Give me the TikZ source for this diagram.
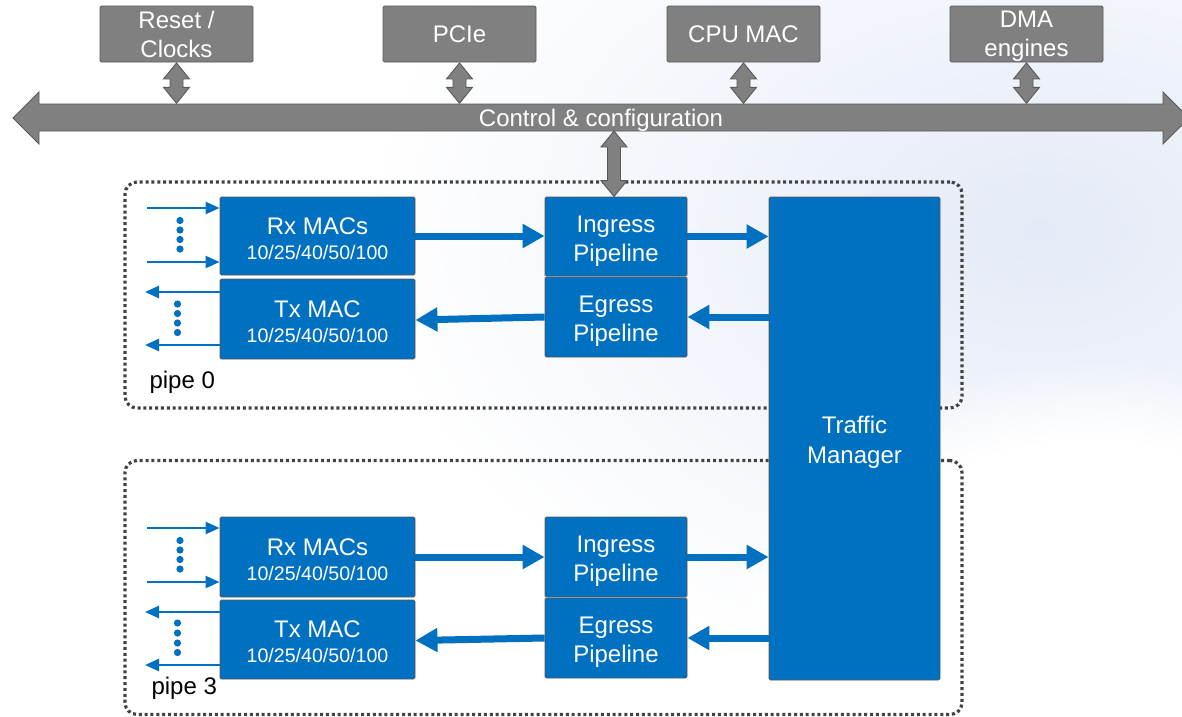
\documentclass[tikz,border=0pt]{standalone}
\usepackage{fontspec}
\setmainfont{Liberation Sans}
\usetikzlibrary{arrows.meta,calc,fadings}

\definecolor{tofblue}{RGB}{0,112,192}
\definecolor{busgray}{RGB}{128,128,128}
\definecolor{edgegray}{RGB}{89,89,89}
\definecolor{dotgray}{RGB}{66,66,66}
\definecolor{haze}{RGB}{228,234,247}

% raise the first line of a block label so that it sits lower in its box
\newcommand\lead{\rule{0pt}{25.5pt}}
\newcommand\leadmac{\rule{0pt}{21.5pt}}

\tikzset{
  bluebox/.style={draw=edgegray, line width=0.9, fill=tofblue, text=white,
    rounded corners=1.5, inner sep=0, align=center,
    font=\fontsize{24}{29}\selectfont},
  macbox/.style={bluebox, font=\fontsize{24}{25}\selectfont},
  graybox/.style={draw=edgegray, line width=0.9, fill=busgray, text=white,
    rounded corners=1.5, inner sep=0, align=center,
    minimum width=153, minimum height=56,
    font=\fontsize{24}{29}\selectfont},
  pipebox/.style={draw=dotgray, line width=3.2, dash pattern=on 3 off 2.85,
    rounded corners=12, inner sep=0},
  fatflow/.style={draw=tofblue, line width=7,
    -{Triangle[width=23pt,length=22pt]}},
  portflow/.style={draw=tofblue, line width=2.5,
    -{Triangle[width=12pt,length=14pt]}},
  fatgray/.style={fill=busgray, draw=edgegray, line width=0.9, line join=miter},
  portdot/.style={fill=tofblue, draw=none},
}

% vertical two-headed block connector between two named points (#1 above #2)
\newcommand\linkbus[2]{%
  \path[fatgray] let \p1=(#1), \p2=(#2) in
    (\x1,\y1) -- (\x1+13,\y1-16) -- (\x1+6.5,\y1-16) -- (\x1+6.5,\y2+16)
    -- (\x1+13,\y2+16) -- (\x1,\y2) -- (\x1-13,\y2+16) -- (\x1-6.5,\y2+16)
    -- (\x1-6.5,\y1-16) -- (\x1-13,\y1-16) -- cycle;}

\begin{document}
\begin{tikzpicture}[x=1pt,y=-1pt]
\useasboundingbox (0,0) rectangle (1182,716);
\fill[white] (0,0) rectangle (1182,716);

% soft backdrop
\begin{scope}
  \clip (0,0) rectangle (1182,716);
  \shade[inner color=haze, outer color=white] (1040,230) ellipse (680 and 460);
  \fill[white, path fading=circle with fuzzy edge 20 percent]
    (1090,760) ellipse (420 and 400);
\end{scope}

% pipe outlines
\node[pipebox, minimum width=837, minimum height=226] (pipe0) at (543.5,295) {};
\node[pipebox, minimum width=837, minimum height=254] (pipe3) at (543.5,587.5) {};
\node[anchor=west, font=\fontsize{24}{29}\selectfont] (lbl0) at (146,382.5) {pipe 0};
\node[anchor=west, font=\fontsize{24}{29}\selectfont] (lbl3) at (148,688.5) {pipe 3};

% control & configuration bus
\path[fatgray] (13,118) -- (39,92) -- (39,104) -- (1163,104) -- (1163,92)
  -- (1189,118) -- (1163,144) -- (1163,131) -- (39,131) -- (39,144) -- cycle;
\node[minimum width=1124, minimum height=27, inner sep=0, text=white,
  font=\fontsize{24}{29}\selectfont] (bus) at (601,117.5)
  {\rule{0pt}{23pt}Control \& configuration};

% peripheral blocks
\node[graybox] (rst)  at (176.5,34) {Reset /\\Clocks};
\node[graybox] (pcie) at (459.5,34) {PCIe};
\node[graybox] (cpu)  at (743.5,34) {CPU MAC};
\node[graybox] (dma)  at (1026.5,34) {\rule{0pt}{21pt}DMA\\engines};

\foreach \blk in {rst,pcie,cpu,dma}{
  \coordinate (\blk-top) at ($(\blk.south)+(0,0.5)$);
  \coordinate (\blk-bus) at (\blk.south |- bus.north);
  \linkbus{\blk-top}{\blk-bus}
}

% traffic manager
\node[bluebox, minimum width=171, minimum height=483] (tm) at (854.5,438.5)
  {\lead Traffic\\[1pt]Manager};

% pipe 0 blocks
\node[macbox, minimum width=195, minimum height=78] (rx0) at (317.5,236)
  {\leadmac Rx MACs\\{\fontsize{19.6}{25}\selectfont 10/25/40/50/100}};
\node[macbox, minimum width=195, minimum height=80] (tx0) at (317.5,319)
  {\leadmac Tx MAC\\{\fontsize{19.6}{25}\selectfont 10/25/40/50/100}};
\node[bluebox, minimum width=142, minimum height=79] (ing0) at (616,236.5)
  {\lead Ingress\\Pipeline};
\node[bluebox, minimum width=142, minimum height=80] (eg0) at (616,317)
  {\lead Egress\\Pipeline};

% pipe 3 blocks
\node[macbox, minimum width=195, minimum height=80] (rx3) at (317.5,557)
  {\leadmac Rx MACs\\{\fontsize{19.6}{25}\selectfont 10/25/40/50/100}};
\node[macbox, minimum width=195, minimum height=79] (tx3) at (317.5,639.5)
  {\leadmac Tx MAC\\{\fontsize{19.6}{25}\selectfont 10/25/40/50/100}};
\node[bluebox, minimum width=142, minimum height=80] (ing3) at (616,557)
  {\lead Ingress\\Pipeline};
\node[bluebox, minimum width=142, minimum height=80] (eg3) at (616,638)
  {\lead Egress\\Pipeline};

% bus to ingress pipeline 0
\coordinate (cfg-top) at (614,131);
\coordinate (cfg-bot) at (ing0.north -| cfg-top);
\linkbus{cfg-top}{cfg-bot}

% data path
\draw[fatflow] (rx0.east) -- (ing0.west |- rx0.east);
\draw[fatflow] (ing0.east) -- (ing0.east -| tm.west);
\draw[fatflow] (eg0.east -| tm.west) -- (eg0.east);
\draw[fatflow] (eg0.west) -- ($(tx0.east)+(0,1)$);

\draw[fatflow] (rx3.east) -- (ing3.west |- rx3.east);
\draw[fatflow] (ing3.east) -- (ing3.east -| tm.west);
\draw[fatflow] (eg3.east -| tm.west) -- (eg3.east);
\draw[fatflow] (eg3.west) -- ($(tx3.east)+(0,1)$);

% front-panel ports, pipe 0
\coordinate (p0in1) at (147,208);
\coordinate (p0in2) at (147,262);
\coordinate (p0out1) at (145,292);
\coordinate (p0out2) at (145,345);
\draw[portflow] (p0in1) -- (p0in1 -| rx0.west);
\draw[portflow] (p0in2) -- (p0in2 -| rx0.west);
\draw[portflow] (p0out1 -| tx0.west) -- (p0out1);
\draw[portflow] (p0out2 -| tx0.west) -- (p0out2);
\foreach \yy in {220.5,230,239.5,249} \fill[portdot] (180,\yy) circle (3.6);
\foreach \yy in {304,313.5,323,332.5} \fill[portdot] (177.5,\yy) circle (3.6);

% front-panel ports, pipe 3
\coordinate (p3in1) at (147,528);
\coordinate (p3in2) at (147,582);
\coordinate (p3out1) at (145,612);
\coordinate (p3out2) at (145,665);
\draw[portflow] (p3in1) -- (p3in1 -| rx3.west);
\draw[portflow] (p3in2) -- (p3in2 -| rx3.west);
\draw[portflow] (p3out1 -| tx3.west) -- (p3out1);
\draw[portflow] (p3out2 -| tx3.west) -- (p3out2);
\foreach \yy in {540.5,550,559.5,569} \fill[portdot] (180,\yy) circle (3.6);
\foreach \yy in {623,633,643,652.5} \fill[portdot] (177.5,\yy) circle (3.6);
\end{tikzpicture}
\end{document}
